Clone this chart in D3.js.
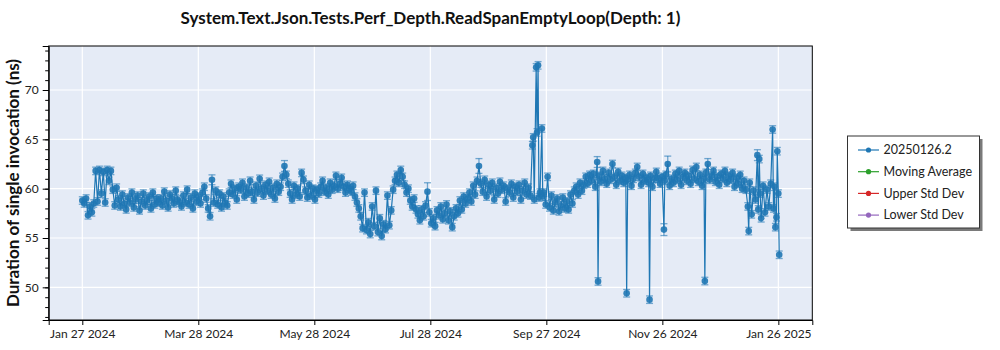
<!DOCTYPE html>
<html><head><meta charset="utf-8">
<script src="https://cdn.jsdelivr.net/npm/d3@7"></script>
<style>body{margin:0;background:#fff}svg{display:block}</style>
</head><body><svg id="c" width="1000" height="350"></svg>
<script>
const chartTitle = "System.Text.Json.Tests.Perf_Depth.ReadSpanEmptyLoop(Depth: 1)";
const yAxisLabel = "Duration of single invocation (ns)";
const startDate = Date.UTC(2024, 0, 27);
// one entry per day from Jan 27 2024; arrays = several runs on that day
const values = [
58.8,58.5,59.0,57.3,58.2,57.6,58.5,61.8,58.7,61.9,
59.5,61.7,58.6,61.9,60.8,61.8,59.9,58.3,60.1,58.9,
58.2,59.4,58.5,57.9,59.1,58.6,59.6,58.1,58.9,59.3,
57.8,58.7,59.5,58.3,58.8,59.2,58.0,59.6,58.4,59.0,
58.6,59.0,58.3,59.7,58.8,58.1,59.4,59.0,58.5,59.8,
58.9,58.6,58.2,59.3,58.6,59.9,58.4,59.1,58.0,59.5,
58.7,59.2,58.5,59.6,60.2,59.0,58.0,57.2,60.9,58.6,
59.8,58.4,59.5,58.1,59.2,58.6,58.3,59.6,60.5,59.4,
60.0,58.9,60.2,59.9,60.6,59.2,60.1,59.5,60.8,59.7,
58.9,60.3,59.6,61.0,60.0,59.3,60.4,59.8,60.7,59.4,
60.1,59.0,60.5,59.7,60.2,61.2,62.3,61.4,60.5,59.5,
58.9,60.3,59.4,60.0,59.2,61.6,60.9,59.8,59.1,60.4,
59.3,60.0,58.9,59.9,59.5,60.2,60.8,59.7,60.1,59.4,
60.6,59.9,60.3,61.3,60.0,60.5,61.1,60.2,59.6,60.4,
60.0,59.7,60.3,59.2,58.6,58.0,57.2,56.0,59.6,55.8,
56.6,55.4,58.2,56.2,59.8,55.6,57.0,55.2,56.4,55.9,
59.3,56.3,57.8,59.9,60.8,61.4,60.6,61.9,61.2,60.4,
59.6,60.0,58.8,58.2,59.0,57.9,57.4,56.8,57.9,57.2,
58.3,59.7,57.6,56.5,57.0,56.2,57.8,57.3,58.2,56.9,
57.5,58.4,56.8,57.7,56.1,57.2,58.0,57.5,58.8,57.9,
59.2,58.5,59.0,59.6,58.7,60.3,59.4,60.8,62.3,60.5,
59.7,60.9,59.2,60.4,59.8,60.6,58.9,60.1,59.5,60.7,
59.9,60.3,58.7,60.0,59.6,60.5,59.1,60.2,59.7,60.4,
58.9,59.8,60.6,59.4,60.1,59.3,[64.4,65.2],58.9,[72.3,65.7],[72.5,59.1],
59.6,[66.1,59.2],59.6,58.4,61.2,58.1,59.3,57.8,58.6,59.0,
57.7,58.3,59.1,58.0,58.7,57.9,59.4,58.5,59.8,60.2,
59.4,60.6,59.8,60.4,61.2,60.5,61.4,60.8,61.5,60.2,
[62.7,50.6],61.3,60.7,61.8,61.0,60.5,61.6,60.9,62.5,61.2,
60.4,61.7,60.8,61.3,60.6,[61.1,49.4],60.9,61.4,60.3,61.0,
61.6,62.2,61.2,60.4,61.5,60.8,61.1,[60.6,48.75],61.3,60.2,
61.0,61.7,61.0,60.5,61.2,[55.85,60.8],61.4,62.5,60.3,61.0,
60.6,61.5,60.9,61.8,60.4,61.2,61.6,60.8,61.3,60.5,
61.9,61.0,62.2,60.7,61.4,60.3,[61.0,50.64],61.6,62.5,60.9,
61.3,61.8,60.7,61.2,60.4,61.5,61.0,61.8,60.6,61.3,
60.9,61.6,60.2,61.1,60.5,61.4,60.0,60.8,59.9,[58.2,55.7],
60.6,57.4,59.8,58.9,[63.4,57.9],[63.0,59.5],57.0,60.3,57.6,59.9,
58.2,60.5,[66.0,58.0],[60.2,56.1],[57.1,63.8],[59.5,53.3]
];
const defaultError = 0.38;
// [day index, half-width of error bar] for runs with wider spread
const widerErrors = [[68,0.5],[106,0.55],[181,0.9],[208,0.75],[270,0.55],[305,0.6],[307,0.8],[354,0.55],[328,0.55]];
const xTickLabels = ["Jan 27 2024","Mar 28 2024","May 28 2024","Jul 28 2024","Sep 27 2024","Nov 26 2024","Jan 26 2025"];
const yTickValues = [50,55,60,65,70];
const legendLabels = ["20250126.2","Moving Average","Upper Std Dev","Lower Std Dev"];
const legendColors = ["#1f77b4","#2ca02c","#d62728","#9467bd"];

const DAY = 86400000;
const errMap = new Map(widerErrors);
const points = [];
values.forEach((v, d) => {
  const arr = Array.isArray(v) ? v : [v];
  arr.forEach((val, j) => {
    points.push({t: new Date(startDate + d*DAY + j*0.45*DAY), v: val,
      e: (j === 0 && errMap.has(d)) ? errMap.get(d) : defaultError});
  });
});

const L = 48.7, R = 812.3, T = 46, B = 320;
const svg = d3.select("#c");
const font = "Lato, 'Noto Sans', sans-serif";

const x = d3.scaleUtc()
  .domain([new Date(startDate - 17.62*DAY), new Date(startDate + 382.8*DAY)])
  .range([L, R]);
const y = d3.scaleLinear().domain([46.69, 74.46]).range([B, T]);

svg.append("rect").attr("x", L).attr("y", T).attr("width", R-L).attr("height", B-T).attr("fill", "#e5ebf6");

const xTickDates = xTickLabels.map((s, k) => new Date(startDate + k*365/6*DAY));

// gridlines
svg.append("g").selectAll("line").data(xTickDates).join("line")
  .attr("x1", d => x(d)).attr("x2", d => x(d)).attr("y1", T).attr("y2", B)
  .attr("stroke", "#fff").attr("stroke-width", 1.2);
svg.append("g").selectAll("line").data(yTickValues).join("line")
  .attr("x1", L).attr("x2", R).attr("y1", d => y(d)).attr("y2", d => y(d))
  .attr("stroke", "#fff").attr("stroke-width", 1.2);

const plot = svg.append("g");
// connecting line
plot.append("path").datum(points)
  .attr("d", d3.line().x(d => x(d.t)).y(d => y(d.v)))
  .attr("fill", "none").attr("stroke", "#1f77b4").attr("stroke-width", 1.2);
// error bars
const eb = plot.append("g").attr("stroke", "#1f77b4").attr("stroke-opacity", 0.6).attr("stroke-width", 1.3);
eb.selectAll("line.v").data(points).join("line").attr("class","v")
  .attr("x1", d => x(d.t)).attr("x2", d => x(d.t))
  .attr("y1", d => y(d.v - d.e)).attr("y2", d => y(d.v + d.e));
eb.selectAll("line.t").data(points).join("line").attr("class","t")
  .attr("x1", d => x(d.t)-3.5).attr("x2", d => x(d.t)+3.5)
  .attr("y1", d => y(d.v + d.e)).attr("y2", d => y(d.v + d.e));
eb.selectAll("line.b").data(points).join("line").attr("class","b")
  .attr("x1", d => x(d.t)-3.5).attr("x2", d => x(d.t)+3.5)
  .attr("y1", d => y(d.v - d.e)).attr("y2", d => y(d.v - d.e));
// markers
plot.append("g").selectAll("circle").data(points).join("circle")
  .attr("cx", d => x(d.t)).attr("cy", d => y(d.v)).attr("r", 3.3)
  .attr("fill", "#1f77b4").attr("fill-opacity", 0.9);

// frame
svg.append("rect").attr("x", L).attr("y", T).attr("width", R-L).attr("height", B-T)
  .attr("fill", "none").attr("stroke", "#000").attr("stroke-width", 1);

// y axis
svg.append("g").attr("transform", `translate(${L},0)`)
  .call(d3.axisLeft(y).tickValues(yTickValues).tickSize(6).tickPadding(4).tickFormat(d3.format("d")));
svg.append("g").attr("transform", `translate(${L},0)`)
  .call(d3.axisLeft(y).tickValues(d3.range(47, 75)).tickSize(3.5).tickFormat(""))
  .call(g => g.select(".domain").remove());
// x axis
svg.append("g").attr("transform", `translate(0,${B})`)
  .call(d3.axisBottom(x).tickValues(xTickDates).tickSize(5).tickPadding(4).tickFormat((d, i) => xTickLabels[i]));
svg.selectAll(".tick text").attr("font-family", font).attr("font-size", 12).attr("fill", "#222");
svg.selectAll(".domain").attr("stroke", "#000");

// title
svg.append("text").attr("x", (L+R)/2).attr("y", 24).attr("text-anchor", "middle")
  .attr("font-family", font).attr("font-weight", "bold").attr("font-size", 17).attr("fill", "#111")
  .text(chartTitle);
svg.append("text").attr("transform", `translate(19,${(T+B)/2}) rotate(-90)`).attr("text-anchor", "middle")
  .attr("font-family", font).attr("font-weight", "bold").attr("font-size", 17).attr("fill", "#111")
  .text(yAxisLabel);

// legend
const lg = svg.append("g").attr("transform", "translate(847.5,136)");
lg.append("rect").attr("x", 3).attr("y", 3).attr("width", 132).attr("height", 92).attr("fill", "#7a7a7a");
lg.append("rect").attr("width", 132).attr("height", 92).attr("fill", "#fff").attr("stroke", "#333").attr("stroke-width", 1);
legendLabels.forEach((lab, i) => {
  const cy = 14 + i*21.7;
  lg.append("line").attr("x1", 10.5).attr("x2", 31.5).attr("y1", cy).attr("y2", cy).attr("stroke", legendColors[i]).attr("stroke-width", 1.2);
  lg.append("circle").attr("cx", 21).attr("cy", cy).attr("r", 2.6).attr("fill", legendColors[i]);
  lg.append("text").attr("x", 36).attr("y", cy).attr("dy", "0.35em")
    .attr("font-family", font).attr("font-size", 12.5).attr("fill", "#222").text(lab);
});
</script></body></html>
